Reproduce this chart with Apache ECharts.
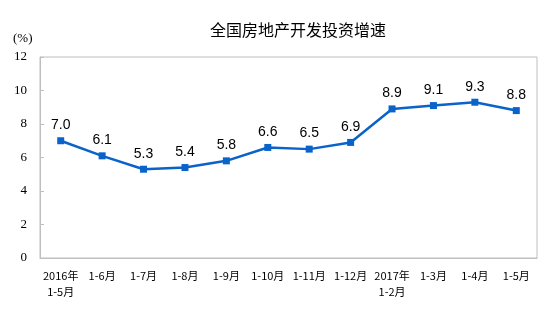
<!DOCTYPE html>
<html>
<head>
<meta charset="utf-8">
<script src="https://cdn.jsdelivr.net/npm/echarts@6/dist/echarts.min.js"></script>
<style>
  html, body { margin: 0; padding: 0; background: #fff; }
  #chart { width: 554px; height: 334px; }
</style>
</head>
<body>
<div id="chart"></div>
<script>
// Cumulative national real-estate investment growth, by reporting period
var categories = ['2016年\n1-5月', '1-6月', '1-7月', '1-8月', '1-9月', '1-10月', '1-11月', '1-12月', '2017年\n1-2月', '1-3月', '1-4月', '1-5月'];
var growth = [7.0, 6.1, 5.3, 5.4, 5.8, 6.6, 6.5, 6.9, 8.9, 9.1, 9.3, 8.8];
var yTicks = [0, 2, 4, 6, 8, 10, 12];

var chart = echarts.init(document.getElementById('chart'));
chart.setOption({
  animation: false,
  backgroundColor: '#fff',
  title: {
    text: '全国房地产开发投资增速',
    left: 293,
    textAlign: 'center',
    top: 17,
    textStyle: { fontSize: 16, fontWeight: 'normal', color: '#000', fontFamily: 'Noto Sans CJK SC' }
  },
  graphic: [{
    type: 'text',
    left: 13,
    top: 32,
    style: { text: '(%)', fontSize: 13, fill: '#000', fontFamily: 'Liberation Serif' }
  }],
  grid: { left: 40, right: 17, top: 57, bottom: 76, show: true, borderColor: '#bfbfbf', borderWidth: 1 },
  xAxis: {
    type: 'category',
    data: categories,
    boundaryGap: true,
    axisLine: { lineStyle: { color: '#bfbfbf' } },
    axisTick: { inside: true, length: 4, lineStyle: { color: '#bfbfbf' } },
    axisLabel: { color: '#000', fontSize: 11, fontFamily: 'Noto Sans CJK SC', margin: 10, lineHeight: 16, interval: 0 }
  },
  yAxis: {
    type: 'value',
    min: yTicks[0],
    max: yTicks[yTicks.length - 1],
    interval: 2,
    axisLine: { show: true, lineStyle: { color: '#bfbfbf' } },
    axisTick: { show: true, inside: true, length: 4, lineStyle: { color: '#bfbfbf' } },
    splitLine: { show: false },
    axisLabel: { color: '#000', fontSize: 13, fontFamily: 'Liberation Serif', margin: 13 }
  },
  series: [{
    type: 'line',
    data: growth,
    symbol: 'rect',
    symbolSize: 7,
    lineStyle: { color: '#0A63C9', width: 2.5 },
    itemStyle: { color: '#0A63C9' },
    label: {
      show: true,
      position: 'top',
      distance: 5,
      color: '#000',
      fontSize: 14,
      fontFamily: 'Liberation Sans',
      formatter: function (p) { return p.value.toFixed(1); }
    }
  }]
});
</script>
</body>
</html>
